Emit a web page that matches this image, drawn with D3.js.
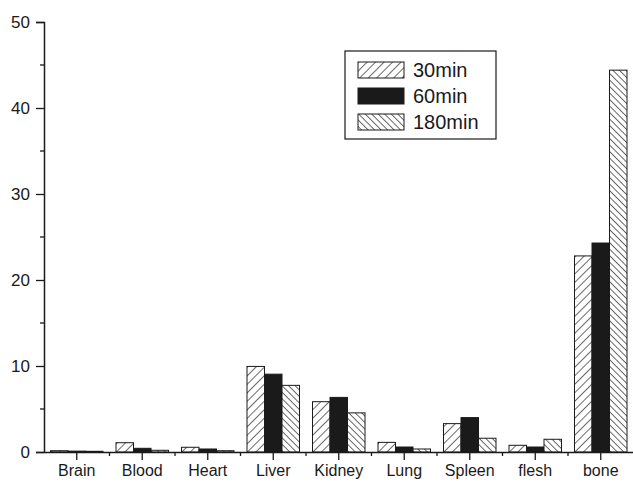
<!DOCTYPE html>
<html>
<head>
<meta charset="utf-8">
<script src="https://cdn.jsdelivr.net/npm/d3@7"></script>
<style>
  body { margin: 0; background: #fff; }
  svg { display: block; font-family: "Liberation Sans", Arial, sans-serif; }
</style>
</head>
<body>
<div id="chart"></div>
<script>
const categories = ["Brain", "Blood", "Heart", "Liver", "Kidney", "Lung", "Spleen", "flesh", "bone"];
const series = ["30min", "60min", "180min"];
const values30 = [0.15, 1.08, 0.55, 9.95, 5.85, 1.12, 3.3, 0.78, 22.8];
const values60 = [0.1, 0.43, 0.35, 9.05, 6.35, 0.58, 4.0, 0.58, 24.3];
const values180 = [0.08, 0.2, 0.15, 7.75, 4.55, 0.35, 1.6, 1.48, 44.4];
const yTicks = [0, 10, 20, 30, 40, 50];

const width = 633, height = 484;
const mLeft = 44, mRight = 633.5, mTop = 22, mBottom = 452;

const svg = d3.select("#chart").append("svg")
  .attr("width", width).attr("height", height);

// hatch patterns
const defs = svg.append("defs");
function hatch(id, step, dir) {
  const p = defs.append("pattern").attr("id", id)
    .attr("patternUnits", "userSpaceOnUse")
    .attr("width", step).attr("height", step)
    .attr("patternTransform", "rotate(" + (dir * 45) + ")");
  p.append("rect").attr("width", step).attr("height", step).attr("fill", "#fff");
  p.append("line").attr("x1", 0).attr("y1", 0).attr("x2", 0).attr("y2", step)
    .attr("stroke", "#1a1a1a").attr("stroke-width", 1.3);
}
hatch("h30", 6, 1);
hatch("h180", 4.6, -1);

const fills = { "30min": "url(#h30)", "60min": "#1a1a1a", "180min": "url(#h180)" };

const x0 = d3.scaleBand().domain(categories).range([mLeft, mRight]).padding(0);
const x1 = d3.scaleBand().domain(series).range([6.5, x0.bandwidth() - 6.5]);
const y = d3.scaleLinear().domain([0, 50]).range([mBottom, mTop]);

const data = categories.map((c, i) => ({
  cat: c,
  vals: [
    { s: "30min", v: values30[i] },
    { s: "60min", v: values60[i] },
    { s: "180min", v: values180[i] }
  ]
}));

// bars
const g = svg.append("g");
g.selectAll("g.grp").data(data).join("g")
  .attr("class", "grp")
  .attr("transform", d => `translate(${x0(d.cat)},0)`)
  .selectAll("rect").data(d => d.vals).join("rect")
  .attr("x", d => x1(d.s))
  .attr("width", x1.bandwidth())
  .attr("y", d => y(d.v))
  .attr("height", d => mBottom - y(d.v))
  .attr("fill", d => fills[d.s])
  .attr("stroke", "#1a1a1a")
  .attr("stroke-width", 1);

// y axis
const yAxis = d3.axisLeft(y).tickValues(yTicks).tickSize(8).tickPadding(6);
const ya = svg.append("g").attr("transform", `translate(${mLeft},0)`).call(yAxis);
ya.attr("font-family", null);
ya.select(".domain").attr("stroke-width", 1.5).attr("stroke", "#1a1a1a");
ya.selectAll(".tick line").attr("stroke-width", 1.3).attr("stroke", "#1a1a1a");
ya.selectAll("text").attr("font-size", 17).attr("fill", "#1a1a1a");
// minor y ticks
svg.append("g").selectAll("line").data([5, 15, 25, 35, 45]).join("line")
  .attr("x1", mLeft - 4).attr("x2", mLeft)
  .attr("y1", d => y(d)).attr("y2", d => y(d))
  .attr("stroke", "#1a1a1a").attr("stroke-width", 1.3);

// x axis
const xAxis = d3.axisBottom(x0).tickSize(8).tickPadding(5).tickSizeOuter(0);
const xa = svg.append("g").attr("transform", `translate(0,${mBottom})`).call(xAxis);
xa.attr("font-family", null);
xa.select(".domain").attr("stroke-width", 1.5).attr("stroke", "#1a1a1a");
xa.selectAll(".tick line").attr("stroke-width", 1.3).attr("stroke", "#1a1a1a");
xa.selectAll("text").attr("font-size", 16).attr("fill", "#1a1a1a");
// minor x ticks at category boundaries
svg.append("g").selectAll("line").data(categories.slice(1)).join("line")
  .attr("x1", d => x0(d)).attr("x2", d => x0(d))
  .attr("y1", mBottom).attr("y2", mBottom + 4)
  .attr("stroke", "#1a1a1a").attr("stroke-width", 1.3);

// legend
const legend = svg.append("g");
legend.append("rect").attr("x", 345).attr("y", 51).attr("width", 151).attr("height", 88)
  .attr("fill", "#fff").attr("stroke", "#1a1a1a").attr("stroke-width", 1.2);
const li = legend.selectAll("g.item").data(series).join("g")
  .attr("class", "item")
  .attr("transform", (d, i) => `translate(358,${62 + i * 26})`);
li.append("rect").attr("width", 46).attr("height", 16)
  .attr("fill", d => fills[d]).attr("stroke", "#1a1a1a").attr("stroke-width", 1);
li.append("text").attr("x", 55).attr("y", 15).text(d => d)
  .attr("font-size", 20).attr("fill", "#1a1a1a");
</script>
</body>
</html>
